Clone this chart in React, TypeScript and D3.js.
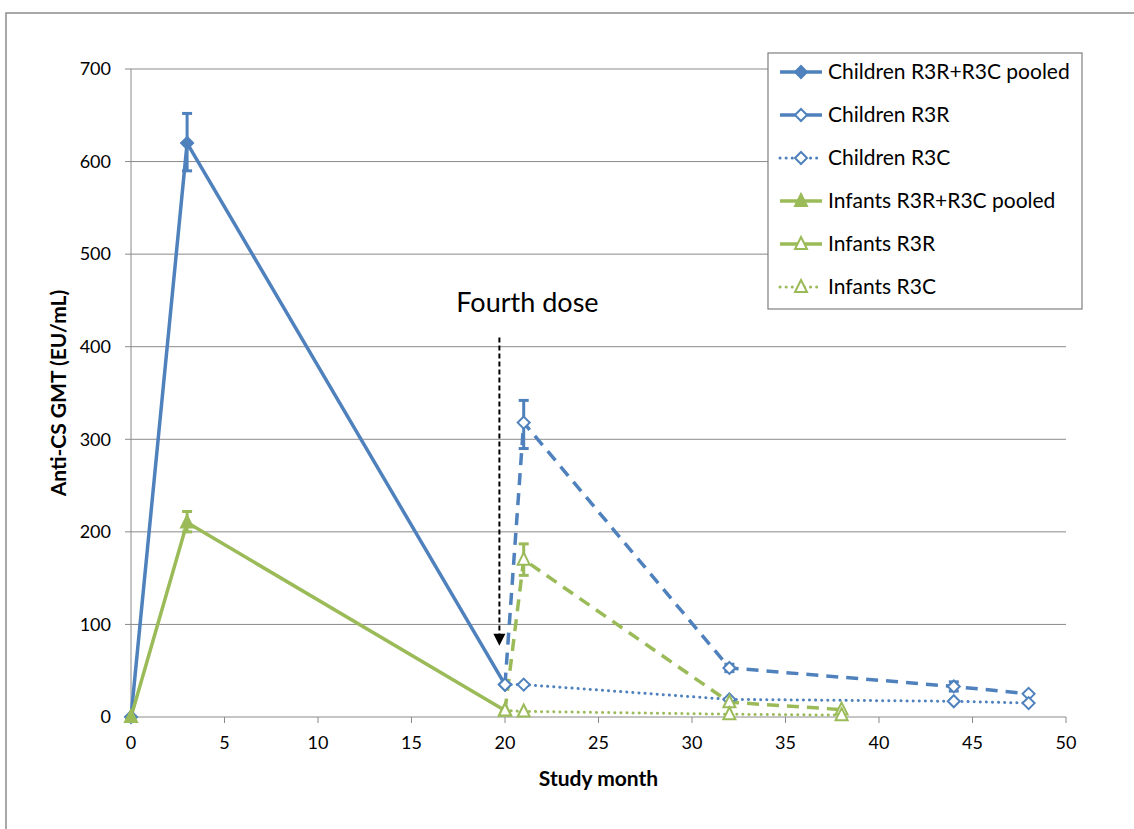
import React from "react";
import * as d3 from "d3";

// study month / GMT values
const childrenPooled = [
  { x: 0, y: 0 },
  { x: 3, y: 620 },
  { x: 20, y: 35 },
];
const childrenR3R = [
  { x: 20, y: 35 },
  { x: 21, y: 318 },
  { x: 32, y: 53 },
  { x: 44, y: 33 },
  { x: 48, y: 25 },
];
const childrenR3C = [
  { x: 20, y: 35 },
  { x: 21, y: 35 },
  { x: 32, y: 19 },
  { x: 44, y: 17 },
  { x: 48, y: 15 },
];
const infantsPooled = [
  { x: 0, y: 0 },
  { x: 3, y: 210 },
  { x: 20, y: 7 },
];
const infantsR3R = [
  { x: 20, y: 7 },
  { x: 21, y: 170 },
  { x: 32, y: 16 },
  { x: 38, y: 8 },
];
const infantsR3C = [
  { x: 20, y: 7 },
  { x: 21, y: 6 },
  { x: 32, y: 3 },
  { x: 38, y: 2 },
];

// error bars: x, low, high
const errorBars = [
  { x: 3, lo: 590, hi: 652, color: "blue" },
  { x: 21, lo: 290, hi: 342, color: "blue" },
  { x: 32, lo: 49, hi: 57, color: "blue" },
  { x: 44, lo: 28, hi: 38, color: "blue" },
  { x: 3, lo: 200, hi: 222, color: "green" },
  { x: 21, lo: 153, hi: 187, color: "green" },
];

const yTicks = [0, 100, 200, 300, 400, 500, 600, 700];
const xTicks = [0, 5, 10, 15, 20, 25, 30, 35, 40, 45, 50];

const BLUE = "#4F81BD";
const GREEN = "#9BBB59";
const FONT = "Lato, 'Open Sans', sans-serif";
const DOT = "0.1,6";

type Pt = { x: number; y: number };

const seriesList = [
  { name: "Children R3R+R3C pooled", data: childrenPooled, color: BLUE, dash: "", shape: "diamond", filled: true, width: 3.5 },
  { name: "Children R3R", data: childrenR3R, color: BLUE, dash: "12,8", shape: "diamond", filled: false, width: 3.5 },
  { name: "Children R3C", data: childrenR3C, color: BLUE, dash: DOT, shape: "diamond", filled: false, width: 3 },
  { name: "Infants R3R+R3C pooled", data: infantsPooled, color: GREEN, dash: "", shape: "triangle", filled: true, width: 3.5 },
  { name: "Infants R3R", data: infantsR3R, color: GREEN, dash: "12,8", shape: "triangle", filled: false, width: 3.5 },
  { name: "Infants R3C", data: infantsR3C, color: GREEN, dash: DOT, shape: "triangle", filled: false, width: 3 },
];

const Marker = ({ cx, cy, shape, filled, color }: any) => {
  const s = 6;
  const path =
    shape === "diamond"
      ? `M${cx},${cy - s}L${cx + s},${cy}L${cx},${cy + s}L${cx - s},${cy}Z`
      : `M${cx},${cy - s - 1}L${cx + s},${cy + s - 1}L${cx - s},${cy + s - 1}Z`;
  return (
    <path
      d={path}
      fill={filled ? color : "#fff"}
      stroke={color}
      strokeWidth={2}
    />
  );
};

const App = () => {
  const width = 1134;
  const height = 829;
  const x = d3.scaleLinear().domain([0, 50]).range([131, 1066]);
  const y = d3.scaleLinear().domain([0, 700]).range([717, 69]);

  const line = d3
    .line<Pt>()
    .x((d) => x(d.x))
    .y((d) => y(d.y));

  const legendX = 768;
  const legendY = 53;

  return (
    <svg
      width={width}
      height={height}
      style={{ position: "absolute", left: 0, top: 0, background: "#fff" }}
      fontFamily={FONT}
    >
      {/* outer chart border (left + top only visible) */}
      <path d={`M6,829V13H1134`} fill="none" stroke="#8c8c8c" strokeWidth={1.5} />

      {/* gridlines */}
      {yTicks.slice(1).map((t) => (
        <line key={t} x1={x(0)} x2={x(50)} y1={y(t)} y2={y(t)} stroke="#8a8a8a" strokeWidth={1} />
      ))}
      {/* axes */}
      <line x1={x(0)} x2={x(0)} y1={y(0)} y2={y(700)} stroke="#8a8a8a" strokeWidth={1} />
      <line x1={x(0)} x2={x(50)} y1={y(0)} y2={y(0)} stroke="#8a8a8a" strokeWidth={1} />
      {yTicks.map((t) => (
        <g key={t}>
          <line x1={x(0) - 6} x2={x(0)} y1={y(t)} y2={y(t)} stroke="#8a8a8a" />
          <text x={x(0) - 20} y={y(t)} dy="0.35em" textAnchor="end" fontSize={18} fill="#000">
            {t}
          </text>
        </g>
      ))}
      {xTicks.map((t) => (
        <g key={t}>
          <line x1={x(t)} x2={x(t)} y1={y(0)} y2={y(0) + 6} stroke="#8a8a8a" />
          <text x={x(t)} y={y(0) + 32} textAnchor="middle" fontSize={18} fill="#000">
            {t}
          </text>
        </g>
      ))}

      <text
        transform={`translate(66,${(y(0) + y(700)) / 2}) rotate(-90)`}
        textAnchor="middle"
        fontSize={21}
        fontWeight="bold"
      >
        Anti-CS GMT (EU/mL)
      </text>
      <text x={(x(0) + x(50)) / 2} y={786} textAnchor="middle" fontSize={21} fontWeight="bold">
        Study month
      </text>

      {/* fourth dose annotation */}
      <text x={x(21.2)} y={312} textAnchor="middle" fontSize={27} fill="#000">
        Fourth dose
      </text>
      <line
        x1={x(19.7)}
        x2={x(19.7)}
        y1={y(410)}
        y2={y(82)}
        stroke="#000"
        strokeWidth={2}
        strokeDasharray="5,3"
      />
      <path
        d={`M${x(19.7) - 6},${y(90)}L${x(19.7) + 6},${y(90)}L${x(19.7)},${y(77)}Z`}
        fill="#000"
      />

      {/* series lines */}
      {seriesList.map((s) => (
        <path
          key={s.name}
          d={line(s.data) || ""}
          fill="none"
          stroke={s.color}
          strokeWidth={s.width}
          strokeDasharray={s.dash}
          strokeLinecap={s.dash === DOT ? "round" : "butt"}
          strokeLinejoin="round"
        />
      ))}

      {/* error bars */}
      {errorBars.map((e, i) => {
        const c = e.color === "blue" ? BLUE : GREEN;
        return (
          <g key={i} stroke={c} strokeWidth={3}>
            <line x1={x(e.x)} x2={x(e.x)} y1={y(e.lo)} y2={y(e.hi)} />
            <line x1={x(e.x) - 5} x2={x(e.x) + 5} y1={y(e.lo)} y2={y(e.lo)} />
            <line x1={x(e.x) - 5} x2={x(e.x) + 5} y1={y(e.hi)} y2={y(e.hi)} />
          </g>
        );
      })}

      {/* markers */}
      {seriesList.map((s) =>
        s.data.map((d, i) => (
          <Marker
            key={s.name + i}
            cx={x(d.x)}
            cy={y(d.y)}
            shape={s.shape}
            filled={s.filled}
            color={s.color}
          />
        ))
      )}

      {/* legend */}
      <rect x={legendX} y={legendY} width={314} height={256} fill="#fff" stroke="#7f7f7f" strokeWidth={1.2} />
      {seriesList.map((s, i) => {
        const cy = legendY + 19 + i * 43;
        return (
          <g key={s.name}>
            <line
              x1={legendX + 12}
              x2={legendX + 54}
              y1={cy}
              y2={cy}
              stroke={s.color}
              strokeWidth={s.width}
              strokeDasharray={s.dash === "12,8" ? "" : s.dash}
              strokeLinecap={s.dash === DOT ? "round" : "butt"}
            />
            <Marker cx={legendX + 33} cy={cy} shape={s.shape} filled={s.filled} color={s.color} />
            <text x={legendX + 60} y={cy} dy="0.35em" fontSize={21} fill="#000">
              {s.name}
            </text>
          </g>
        );
      })}
    </svg>
  );
};

export default App;
